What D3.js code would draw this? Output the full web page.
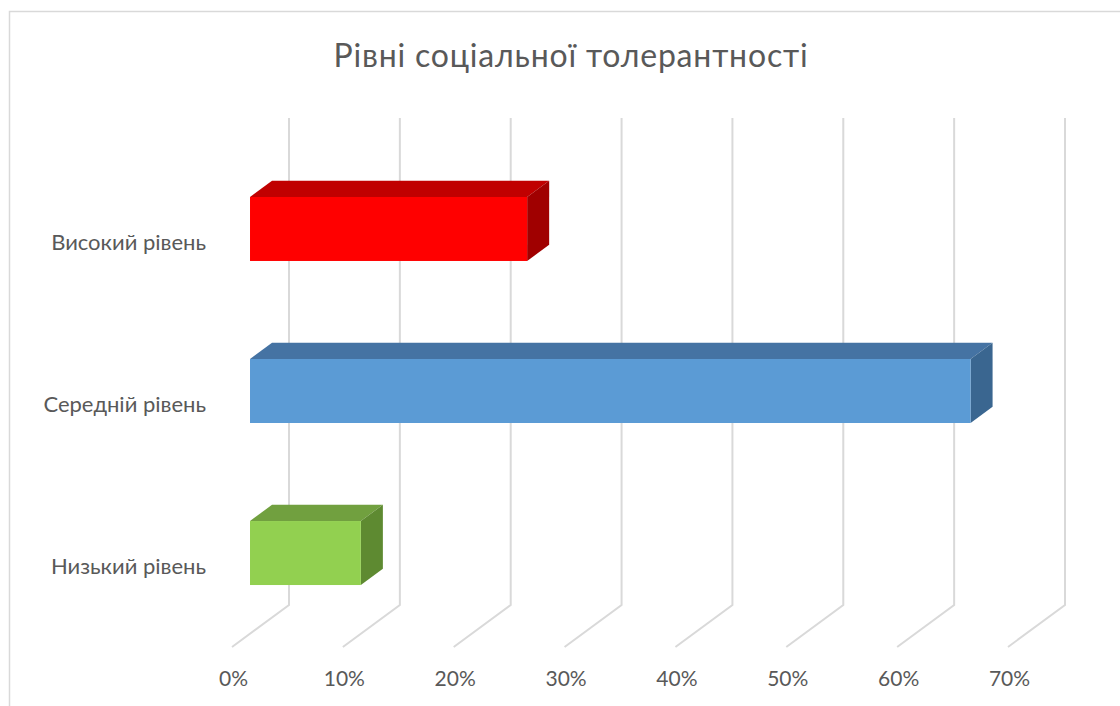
<!DOCTYPE html>
<html>
<head>
<meta charset="utf-8">
<script src="https://cdn.jsdelivr.net/npm/d3@7"></script>
<style>
  body { margin: 0; background: #fff; }
  text { font-family: Lato, 'Open Sans', sans-serif; fill: #595959; }
</style>
</head>
<body>
<div id="chart"></div>
<script>
// chart data
const title = 'Рівні соціальної толерантності'
const categories = ['Високий рівень', 'Середній рівень', 'Низький рівень']
const values = [0.25, 0.65, 0.10]
const ticks = [0, 0.1, 0.2, 0.3, 0.4, 0.5, 0.6, 0.7]
const fronts = ['#ff0000', '#5b9bd5', '#92d050']
const tops = ['#c00000', '#4573a3', '#71a03f']
const sides = ['#a00000', '#3a6690', '#5e8a31']

const width = 1120,
  height = 706

let svg = d3.select('#chart')
  .append('svg')
  .attr('width', width)
  .attr('height', height)

// outer border
svg.append('rect')
  .attr('x', 9.5).attr('y', 11.5)
  .attr('width', 1120).attr('height', 710)
  .attr('fill', '#fff')
  .attr('stroke', '#d9d9d9')
  .attr('stroke-width', 1.5)

svg.append('text')
  .attr('x', 571).attr('y', 67)
  .attr('text-anchor', 'middle')
  .style('font-size', '32px')
  .style('letter-spacing', '0.8px')
  .text(title)

// front plane scale, depth vector goes up-right
let x = d3.scaleLinear().domain([0, 0.7]).range([232, 1008])
let depth = {dx: 57, dy: -42}
let floorY = 647, topY = 118

let y = d3.scaleBand()
  .domain(categories)
  .range([132, 650])
  .paddingInner(0.605)
  .paddingOuter(0.401)

// gridlines: diagonal on floor + vertical on back wall
let grid = svg.append('g')
  .attr('fill', 'none')
  .attr('stroke', '#d9d9d9')
  .attr('stroke-width', 2)
grid.selectAll('path')
  .data(ticks)
  .enter()
  .append('path')
  .attr('d', d => {
    let x0 = x(d)
    return `M${x0},${floorY}L${x0 + depth.dx},${floorY + depth.dy}L${x0 + depth.dx},${topY}`
  })

svg.selectAll('.tick-label')
  .data(ticks)
  .enter()
  .append('text')
  .attr('class', 'tick-label')
  .attr('x', d => x(d) + 1.5)
  .attr('y', 686)
  .attr('text-anchor', 'middle')
  .style('font-size', '21px')
  .text(d => d3.format('.0%')(d))

// bars: front face sits at depth z0, back face at z1 (fractions of depth)
const z0 = 0.316, z1 = 0.702
let bars = svg.selectAll('.bar')
  .data(categories)
  .enter()
  .append('g')
  .attr('class', 'bar')

let pt = (v, yy, z) => [x(v) + z * depth.dx, yy + (z - z0) * depth.dy]

bars.each(function(c, i) {
  let g = d3.select(this)
  let v = values[i]
  let y0 = y(c), y1 = y(c) + y.bandwidth()
  let top = [pt(0, y0, z0), pt(v, y0, z0), pt(v, y0, z1), pt(0, y0, z1)]
  let side = [pt(v, y0, z0), pt(v, y0, z1), pt(v, y1, z1), pt(v, y1, z0)]
  g.append('polygon')
    .attr('points', top.map(p => p.join(',')).join(' '))
    .attr('fill', tops[i])
  g.append('polygon')
    .attr('points', side.map(p => p.join(',')).join(' '))
    .attr('fill', sides[i])
  g.append('rect')
    .attr('x', pt(0, y0, z0)[0])
    .attr('y', y0)
    .attr('width', pt(v, y0, z0)[0] - pt(0, y0, z0)[0])
    .attr('height', y.bandwidth())
    .attr('fill', fronts[i])
})

svg.selectAll('.cat-label')
  .data(categories)
  .enter()
  .append('text')
  .attr('class', 'cat-label')
  .attr('x', 206)
  .attr('y', d => y(d) + y.bandwidth() / 2 + 21)
  .attr('text-anchor', 'end')
  .style('font-size', '22px')
  .text(d => d)
</script>
</body>
</html>
